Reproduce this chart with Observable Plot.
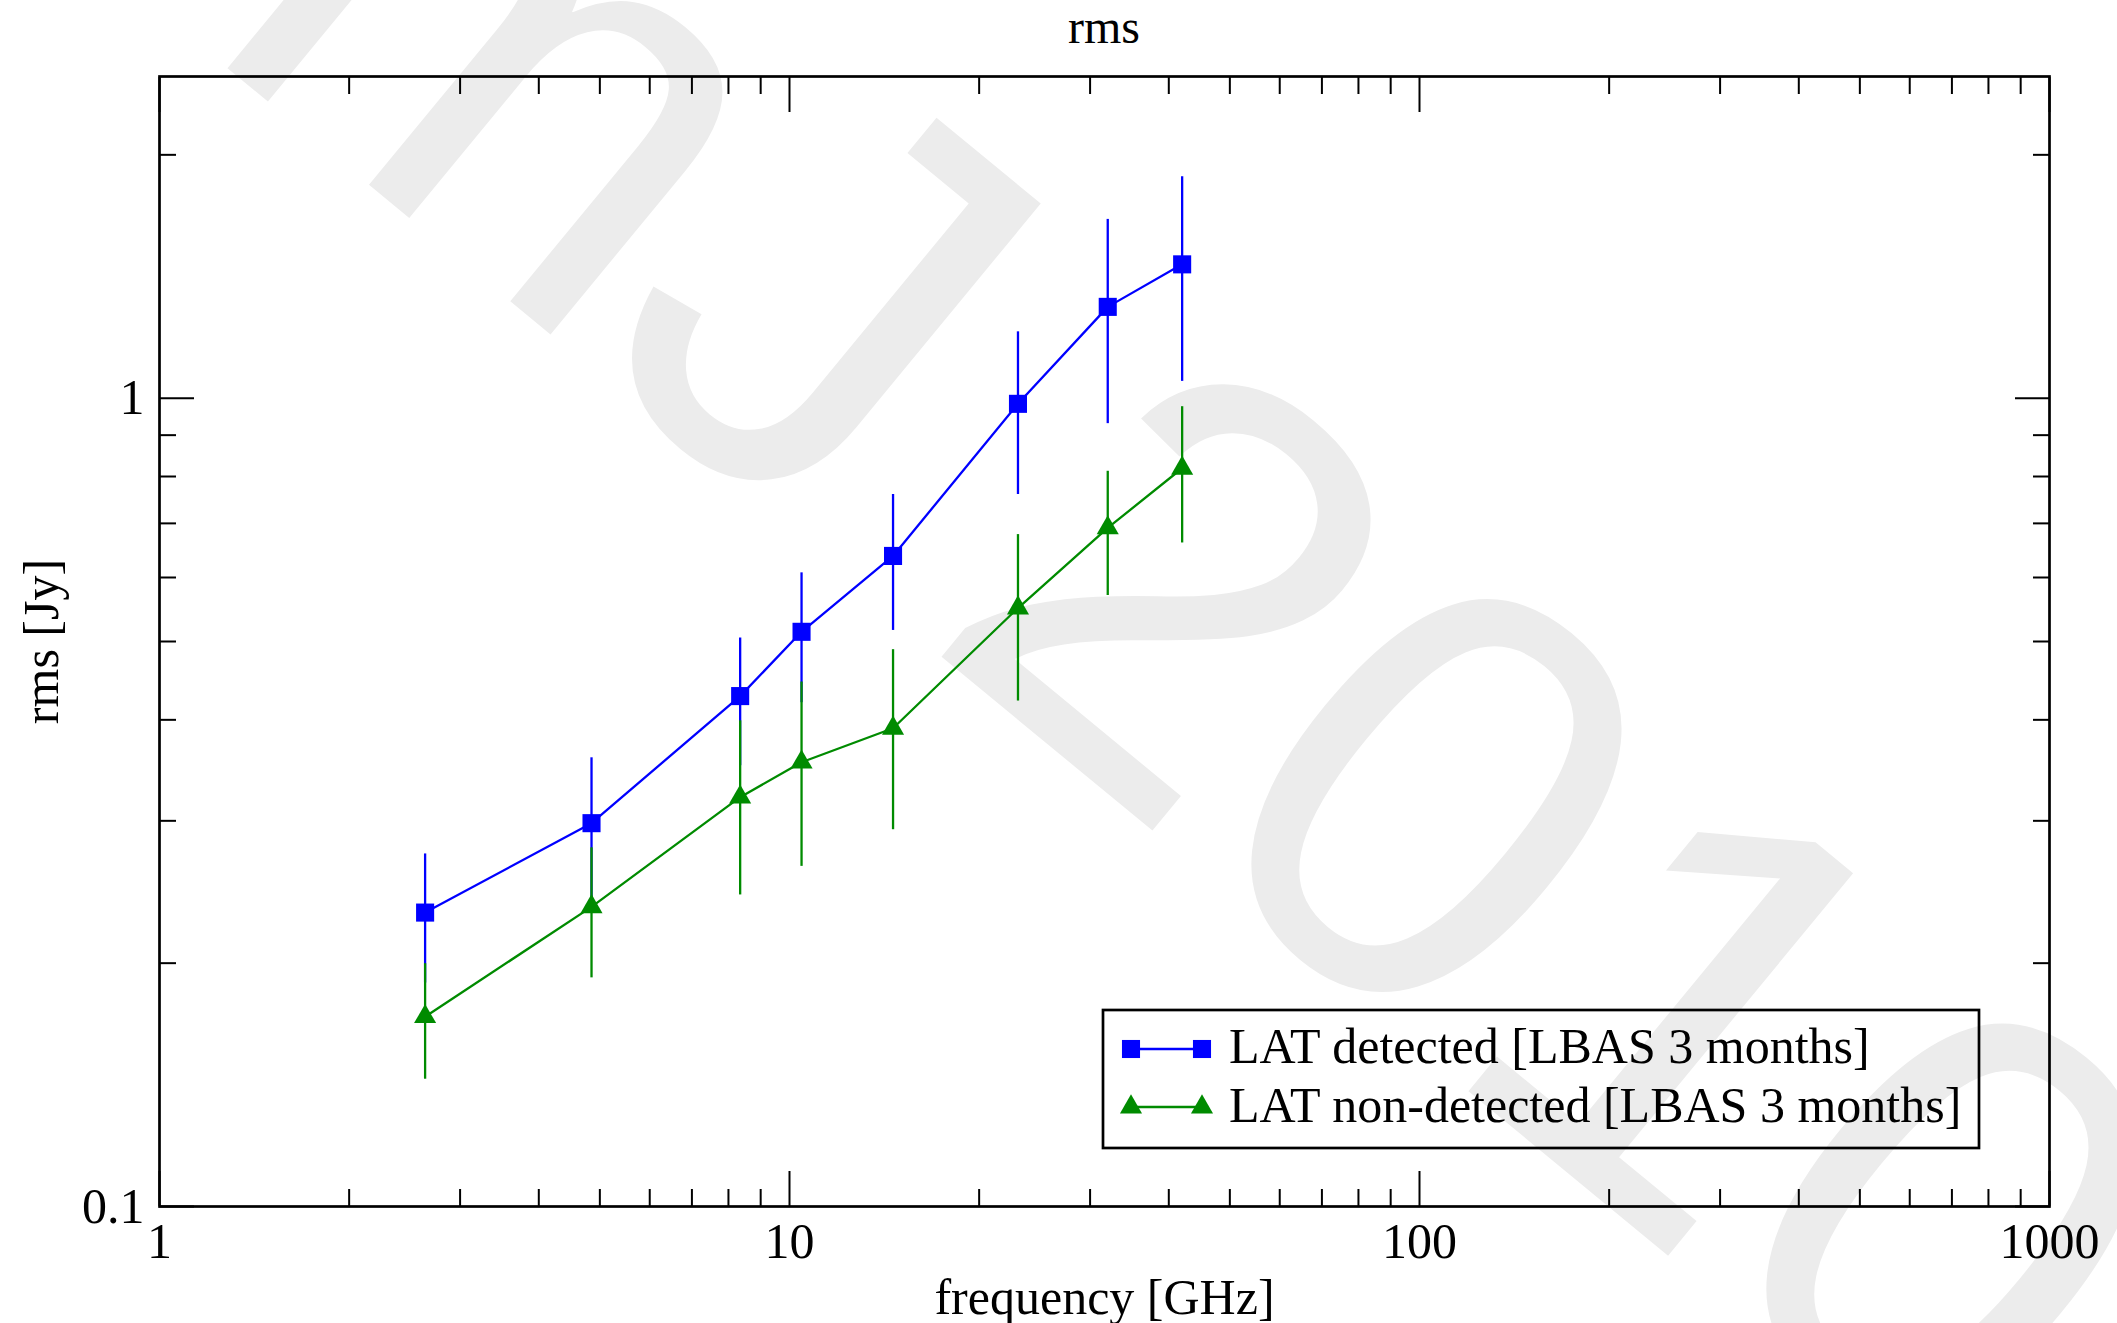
<!DOCTYPE html>
<html>
<head>
<meta charset="utf-8">
<script src="https://cdn.jsdelivr.net/npm/d3@7"></script>
<script src="https://cdn.jsdelivr.net/npm/@observablehq/plot@0.6"></script>
<style>
  html, body { margin: 0; padding: 0; background: #ffffff; }
  #wrap { position: relative; width: 2117px; height: 1323px; overflow: hidden; background: #ffffff; }
  #under, #chart, #over { position: absolute; left: 0; top: 0; }
  #under { z-index: 0; }
  #chart { z-index: 1; }
  #over { z-index: 2; pointer-events: none; }
  #title { position: absolute; left: 1004px; width: 200px; top: 7px; z-index: 3; text-align: center;
           font-family: 'Liberation Serif', 'Times New Roman', serif; font-size: 48px; line-height: 40px; color: #000; }
</style>
</head>
<body>
<div id="wrap">
  <svg id="under" width="2117" height="1323"></svg>
  <div id="chart"></div>
  <svg id="over" width="2117" height="1323"></svg>
  <div id="title"></div>
</div>
<script>
// ---- data ----
const freq = [2.64, 4.85, 8.35, 10.45, 14.6, 23.05, 32, 42];
const detRms = [0.231, 0.298, 0.428, 0.514, 0.638, 0.984, 1.297, 1.464];
const detErr = [0.042, 0.061, 0.077, 0.094, 0.122, 0.224, 0.367, 0.415];
const nonRms = [0.1717, 0.2348, 0.3209, 0.3545, 0.3905, 0.550, 0.691, 0.819];
const nonErr = [0.028, 0.043, 0.078, 0.091, 0.098, 0.128, 0.121, 0.157];
const seriesNames = ["LAT detected [LBAS 3 months]", "LAT non-detected [LBAS 3 months]"];
const seriesColors = ["#0000ff", "#008b00"];
const seriesSymbols = ["square", "triangle"];
const xMajor = [1, 10, 100, 1000];
const xMinor = [2, 3, 4, 5, 6, 7, 8, 9, 20, 30, 40, 50, 60, 70, 80, 90, 200, 300, 400, 500, 600, 700, 800, 900];
const yMajor = [0.1, 1];
const yMinor = [0.2, 0.3, 0.4, 0.5, 0.6, 0.7, 0.8, 0.9, 2];
const titleText = "rms";
const xLabel = "frequency [GHz]";
const yLabel = "rms [Jy]";
const watermarkParts = ["mJ", "2010"];

const det = freq.map((f, i) => ({f, v: detRms[i], lo: detRms[i] - detErr[i], hi: detRms[i] + detErr[i]}));
const non = freq.map((f, i) => ({f, v: nonRms[i], lo: nonRms[i] - nonErr[i], hi: nonRms[i] + nonErr[i]}));

const FONT = "'Liberation Serif', 'Times New Roman', serif";
const FS = 50;
const SQ_R = 10.2, TRI_R = 8.2, LW = 2.3;

function seriesMarks(rows, k) {
  const c = seriesColors[k];
  return [
    Plot.ruleX(rows, {x: "f", y1: "lo", y2: "hi", stroke: c, strokeWidth: LW}),
    Plot.line(rows, {x: "f", y: "v", stroke: c, strokeWidth: LW}),
    Plot.dot(rows, {x: "f", y: "v", symbol: seriesSymbols[k], r: k === 0 ? SQ_R : TRI_R, fill: c, stroke: "none"})
  ];
}

const plot = Plot.plot({
  width: 2117,
  height: 1323,
  marginLeft: 159,
  marginRight: 68,
  marginTop: 76,
  marginBottom: 117,
  style: {background: "transparent", fontFamily: FONT, fontSize: FS + "px", color: "#000", overflow: "visible"},
  x: {type: "log", domain: [1, 1000]},
  y: {type: "log", domain: [0.1, 2.5]},
  marks: [
    ...seriesMarks(det, 0),
    ...seriesMarks(non, 1),
    // bottom
    Plot.axisX({ticks: xMinor, anchor: "bottom", tickSize: -17, fill: "none", strokeWidth: 2}),
    Plot.axisX({ticks: xMajor, anchor: "bottom", tickSize: -35, tickPadding: 50.5, strokeWidth: 2,
      tickFormat: d => String(d), label: xLabel, labelAnchor: "center", labelOffset: 107, labelArrow: "none"}),
    // top
    Plot.axisX({ticks: xMinor, anchor: "top", tickSize: -17, fill: "none", strokeWidth: 2}),
    Plot.axisX({ticks: xMajor, anchor: "top", tickSize: -35, fill: "none", strokeWidth: 2}),
    // left
    Plot.axisY({ticks: yMinor, anchor: "left", tickSize: -17, fill: "none", strokeWidth: 2}),
    Plot.axisY({ticks: yMajor, anchor: "left", tickSize: -35, tickPadding: 50, strokeWidth: 2,
      tickFormat: d => String(d), label: yLabel, labelAnchor: "center", labelOffset: 137.5, labelArrow: "none"}),
    // right
    Plot.axisY({ticks: yMinor, anchor: "right", tickSize: -17, fill: "none", strokeWidth: 2}),
    Plot.axisY({ticks: yMajor, anchor: "right", tickSize: -35, fill: "none", strokeWidth: 2}),
    Plot.frame({stroke: "#000", strokeWidth: 2.7})
  ]
});
document.getElementById("chart").appendChild(plot);

// ---- watermark (background) ----
const under = d3.select("#under");
const wm = under.append("text")
  .attr("transform", "translate(1184,578) rotate(39.5) translate(-1104,215)")
  .attr("font-family", "'Liberation Sans', Arial, sans-serif")
  .attr("font-size", 600)
  .attr("fill", "#ececec");
wm.append("tspan").text(watermarkParts[0]);
wm.append("tspan").attr("dx", 137).text(watermarkParts[1]);

// ---- title ----
document.getElementById("title").textContent = titleText;

// ---- legend (overlay) ----
const over = d3.select("#over");
const lg = over.append("g");
lg.append("rect")
  .attr("x", 1103).attr("y", 1010).attr("width", 876).attr("height", 138)
  .attr("fill", "none").attr("stroke", "#000").attr("stroke-width", 2.7);
const rowY = [1049, 1107];
const baseY = [1063, 1122];
seriesNames.forEach((name, k) => {
  const c = seriesColors[k];
  const y = rowY[k];
  lg.append("line").attr("x1", 1131).attr("x2", 1202).attr("y1", y).attr("y2", y)
    .attr("stroke", c).attr("stroke-width", LW);
  const r = k === 0 ? SQ_R : TRI_R;
  const sym = d3.symbol(k === 0 ? d3.symbolSquare : d3.symbolTriangle, r * r * Math.PI);
  [1131, 1202].forEach(x => {
    lg.append("path").attr("d", sym()).attr("transform", `translate(${x},${y})`).attr("fill", c);
  });
  lg.append("text").attr("x", 1229).attr("y", baseY[k])
    .attr("font-family", FONT).attr("font-size", FS)
    .text(name);
});
</script>
</body>
</html>
